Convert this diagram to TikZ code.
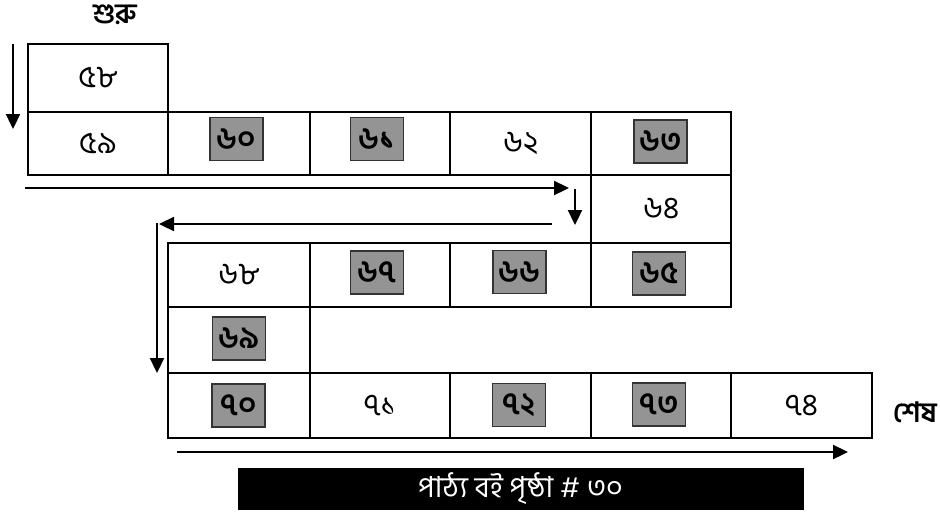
\documentclass[tikz,border=0pt]{standalone}
\usepackage{fontspec}
\newfontfamily\bn[Script=Bengali]{Hind Siliguri}
\usetikzlibrary{arrows.meta}
\tikzset{
  cell/.style={draw, line width=2pt, inner sep=0pt, outer sep=0pt, font=\bn\fontsize{31}{34}\selectfont},
  hl/.style={draw=black!80, fill=black!42, line width=1.3pt, minimum width=53pt, minimum height=43pt, inner sep=0pt, font=\bn\fontsize{31}{34}\selectfont\bfseries},
  flow/.style={line width=2.3pt, -{Triangle[length=15pt,width=14pt]}},
  lbl/.style={font=\bn\fontsize{28}{32}\selectfont\bfseries, inner sep=0pt},
  banner/.style={fill=black, text=white, minimum width=566pt, minimum height=42pt, inner sep=0pt, font=\bn\fontsize{29}{32}\selectfont},
}
\begin{document}
\begin{tikzpicture}[x=1pt,y=-1pt]
\useasboundingbox (0,0) rectangle (940,517);
% row 1
\node[cell, minimum width=140pt, minimum height=68pt] (c58) at (98,78) {৫৮};
% row 2
\node[cell, minimum width=140pt, minimum height=63pt] (c59) at (98,143.5) {৫৯};
\node[cell, minimum width=142pt, minimum height=63pt] (c60) at (239,143.5) {};
\node[cell, minimum width=140pt, minimum height=63pt] (c61) at (380,143.5) {};
\node[cell, minimum width=141pt, minimum height=63pt] (c62) at (520.5,143.5) {৬২};
\node[cell, minimum width=140pt, minimum height=63pt] (c63) at (661,143.5) {};
% row 3
\node[cell, minimum width=140pt, minimum height=68pt] (c64) at (661,209) {৬৪};
% row 4
\node[cell, minimum width=142pt, minimum height=64pt] (c68) at (239,275) {৬৮};
\node[cell, minimum width=140pt, minimum height=64pt] (c67) at (380,275) {};
\node[cell, minimum width=141pt, minimum height=64pt] (c66) at (520.5,275) {};
\node[cell, minimum width=140pt, minimum height=64pt] (c65) at (661,275) {};
% row 5
\node[cell, minimum width=142pt, minimum height=66pt] (c69) at (239,340) {};
% row 6
\node[cell, minimum width=142pt, minimum height=65pt] (c70) at (239,405.5) {};
\node[cell, minimum width=140pt, minimum height=65pt] (c71) at (380,405.5) {৭১};
\node[cell, minimum width=141pt, minimum height=65pt] (c72) at (520.5,405.5) {};
\node[cell, minimum width=140pt, minimum height=65pt] (c73) at (661,405.5) {};
\node[cell, minimum width=141pt, minimum height=65pt] (c74) at (801.5,405.5) {৭৪};
% highlighted numbers
\node[hl] (h60) at (236.5,139) {৬০};
\node[hl] (h61) at (377,139) {৬১};
\node[hl] (h63) at (660.5,141.5) {৬৩};
\node[hl] (h67) at (377,272.5) {৬৭};
\node[hl] (h66) at (519.5,272) {৬৬};
\node[hl] (h65) at (659,273.5) {৬৫};
\node[hl] (h69) at (239,338.5) {৬৯};
\node[hl] (h70) at (238.5,405.5) {৭০};
\node[hl] (h72) at (519,405) {৭২};
\node[hl] (h73) at (659,404.5) {৭৩};
% labels
\node[lbl] (start) at (115,15) {শুরু};
\node[lbl] (end) at (915,412) {শেষ};
\node[banner] (page) at (520.5,489) {পাঠ্য বই পৃষ্ঠা \# ৩০};
% flow arrows
\coordinate (p1) at (13,44);
\coordinate (p2) at (13,129);
\coordinate (p3) at (25,188);
\coordinate (p4) at (569,188);
\coordinate (p5) at (575,189);
\coordinate (p6) at (575,225);
\coordinate (p7) at (552,224);
\coordinate (p8) at (159,224);
\coordinate (p10) at (157,373);
\coordinate (p11) at (177,452);
\coordinate (p12) at (848,452);
\draw[flow] (p1) -- (p2);
\draw[flow] (p3) -- (p4);
\draw[flow] (p5) -- (p6);
\draw[flow] (p7) -- (p8);
\draw[flow] (157,222.85) -- (p10);
\draw[flow] (p11) -- (p12);
\end{tikzpicture}
\end{document}
